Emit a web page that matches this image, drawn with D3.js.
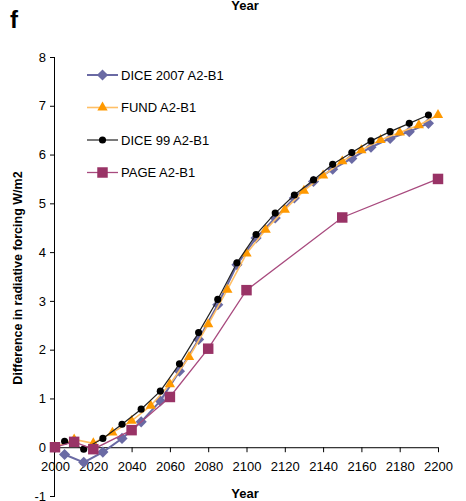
<!DOCTYPE html>
<html>
<head>
<meta charset="utf-8">
<script src="https://cdn.jsdelivr.net/npm/d3@7"></script>
<style>
  html, body { margin: 0; padding: 0; background: #fff; }
  svg { display: block; font-family: "Liberation Sans", Arial, sans-serif; }
</style>
</head>
<body>
<svg id="chart" width="466" height="501"></svg>
<script>
// Radiative forcing difference (A2 minus B1) by model, W/m2
const xTicks = [2000, 2020, 2040, 2060, 2080, 2100, 2120, 2140, 2160, 2180, 2200];
const yTicks = [-1, 0, 1, 2, 3, 4, 5, 6, 7, 8];

const dice2007Years = [2005, 2015, 2025, 2035, 2045, 2055, 2065, 2075, 2085, 2095,
                       2105, 2115, 2125, 2135, 2145, 2155, 2165, 2175, 2185, 2195];
const dice2007Values = [-0.15, -0.31, -0.10, 0.18, 0.52, 0.95, 1.56, 2.21, 2.92, 3.74,
                        4.29, 4.70, 5.11, 5.45, 5.70, 5.92, 6.15, 6.33, 6.47, 6.64];

const fundYears = [2000, 2010, 2020, 2030, 2040, 2050, 2060, 2070, 2080, 2090, 2100,
                   2110, 2120, 2130, 2140, 2150, 2160, 2170, 2180, 2190, 2200];
const fundValues = [0.0, 0.16, 0.08, 0.30, 0.54, 0.85, 1.29, 1.85, 2.52, 3.23, 3.97,
                    4.46, 4.87, 5.26, 5.57, 5.86, 6.09, 6.30, 6.45, 6.60, 6.81];

const dice99Years = [2005, 2015, 2025, 2035, 2045, 2055, 2065, 2075, 2085, 2095,
                     2105, 2115, 2125, 2135, 2145, 2155, 2165, 2175, 2185, 2195];
const dice99Values = [0.12, -0.04, 0.18, 0.47, 0.78, 1.15, 1.71, 2.35, 3.03, 3.78,
                      4.36, 4.80, 5.17, 5.48, 5.80, 6.04, 6.28, 6.47, 6.64, 6.81];

const pageYears = [2000, 2010, 2020, 2040, 2060, 2080, 2100, 2150, 2200];
const pageValues = [0.0, 0.11, -0.04, 0.35, 1.03, 2.02, 3.22, 4.71, 5.50];

const seriesNames = ["DICE 2007 A2-B1", "FUND A2-B1", "DICE 99 A2-B1", "PAGE A2-B1"];

const series = [
  { name: seriesNames[0], years: dice2007Years, values: dice2007Values,
    line: "#6a6aa4", lineWidth: 2, fill: "#6a6aa4", symbol: d3.symbolSquare, size: 62, rotate: 45 },
  { name: seriesNames[1], years: fundYears, values: fundValues,
    line: "#ffbf66", lineWidth: 1.6, fill: "#ff9900", symbol: d3.symbolTriangle, size: 46, rotate: 0 },
  { name: seriesNames[2], years: dice99Years, values: dice99Values,
    line: "#222222", lineWidth: 1.2, fill: "#000000", symbol: d3.symbolCircle, size: 40, rotate: 0 },
  { name: seriesNames[3], years: pageYears, values: pageValues,
    line: "#a84a7e", lineWidth: 1.3, fill: "#993366", symbol: d3.symbolSquare, size: 110, rotate: 0 }
];

const svg = d3.select("#chart");

const x = d3.scaleLinear().domain([2000, 2200]).range([55, 438]);
const y = d3.scaleLinear().domain([-1, 8]).range([496, 57]);

// Y axis on the left edge of the plot
const yAxis = svg.append("g")
  .attr("transform", `translate(${x(2000)},0)`)
  .call(d3.axisLeft(y).tickValues(yTicks).tickSize(5).tickPadding(4).tickFormat(d => String(d)));
yAxis.select(".domain").attr("stroke", "#000").attr("d", `M-0.5,${y(8)}V${y(-1)}`);
yAxis.selectAll(".tick line").attr("stroke", "#000");
yAxis.selectAll("text").attr("font-size", 13).attr("fill", "#000")
  .attr("font-family", "'Liberation Sans', Arial, sans-serif");

// X axis drawn along the zero line
const xAxis = svg.append("g")
  .attr("transform", `translate(0,${y(0)})`)
  .call(d3.axisBottom(x).tickValues(xTicks).tickSize(5).tickPadding(10).tickFormat(d => String(d)));
xAxis.select(".domain").attr("stroke", "#000").attr("d", `M${x(2000)},0.5H${x(2200)}`);
xAxis.selectAll(".tick line").attr("stroke", "#000");
xAxis.selectAll("text").attr("font-size", 13).attr("fill", "#000")
  .attr("font-family", "'Liberation Sans', Arial, sans-serif");

// Series lines and markers
const line = d3.line().x(d => x(d[0])).y(d => y(d[1]));

series.forEach(s => {
  const pts = s.years.map((yr, i) => [yr, s.values[i]]);
  svg.append("path")
    .datum(pts)
    .attr("fill", "none")
    .attr("stroke", s.line)
    .attr("stroke-width", s.lineWidth)
    .attr("d", line);
  svg.append("g").selectAll("path")
    .data(pts)
    .join("path")
    .attr("d", d3.symbol().type(s.symbol).size(s.size))
    .attr("transform", d => `translate(${x(d[0])},${y(d[1])}) rotate(${s.rotate})`)
    .attr("fill", s.fill);
});

// Legend
const legend = svg.append("g");
series.forEach((s, i) => {
  const cy = 75 + i * 32.5;
  const g = legend.append("g");
  g.append("line")
    .attr("x1", 87).attr("x2", 118).attr("y1", cy).attr("y2", cy)
    .attr("stroke", s.line).attr("stroke-width", s.lineWidth);
  g.append("path")
    .attr("d", d3.symbol().type(s.symbol).size(s.size))
    .attr("transform", `translate(102.5,${cy}) rotate(${s.rotate})`)
    .attr("fill", s.fill);
  g.append("text")
    .attr("x", 121).attr("y", cy).attr("dy", "0.36em")
    .attr("font-size", 13).attr("fill", "#000")
    .text(s.name);
});

// Titles and axis labels
svg.append("text")
  .attr("x", 10).attr("y", 28)
  .attr("font-size", 24).attr("font-weight", "bold")
  .text("f");

svg.append("text")
  .attr("x", 245).attr("y", 10)
  .attr("text-anchor", "middle")
  .attr("font-size", 13).attr("font-weight", "bold")
  .text("Year");

svg.append("text")
  .attr("x", 245).attr("y", 498)
  .attr("text-anchor", "middle")
  .attr("font-size", 13).attr("font-weight", "bold")
  .text("Year");

svg.append("text")
  .attr("transform", `translate(22,${278}) rotate(-90)`)
  .attr("text-anchor", "middle")
  .attr("font-size", 12.5).attr("font-weight", "bold")
  .text("Difference in radiative forcing W/m2");
</script>
</body>
</html>
